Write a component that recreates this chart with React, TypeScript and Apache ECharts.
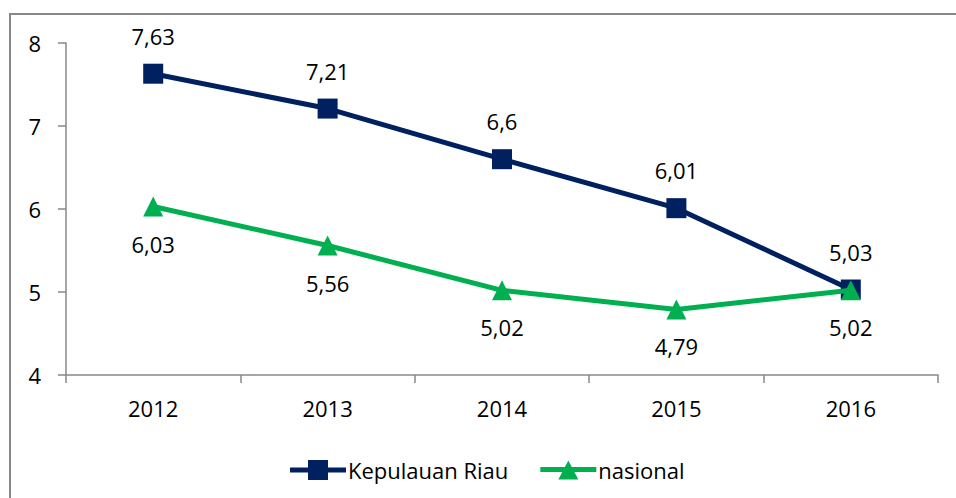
import React, { useEffect, useRef } from "react";
import * as echarts from "echarts";

const years = ["2012", "2013", "2014", "2015", "2016"];
const kepri = [7.63, 7.21, 6.6, 6.01, 5.03];
const nasional = [6.03, 5.56, 5.02, 4.79, 5.02];
const yTicks = { min: 4, max: 8, interval: 1 };

const FONT = "'Open Sans', sans-serif";
const fmt = (p: any) => String(p.value).replace(".", ",");

const ICON_SQUARE = "path://M0,7.5 H56 V12.5 H0 Z M18,0 H38 V20 H18 Z";
const ICON_TRIANGLE = "path://M0,7.5 H56 V12.5 H0 Z M18,20 L28,1 L38,20 Z";

export default function App() {
  const ref = useRef<HTMLDivElement>(null);
  useEffect(() => {
    const chart = echarts.init(ref.current!, null, { renderer: "svg" });
    chart.setOption({
      animation: false,
      backgroundColor: "#ffffff",
      textStyle: { fontFamily: FONT },
      graphic: [
        {
          type: "rect",
          shape: { x: 10, y: 14, width: 1000, height: 600 },
          style: { fill: "none", stroke: "#888888", lineWidth: 2 },
          silent: true,
          z: -1,
        },
      ],
      grid: { left: 66, right: 18, top: 43, bottom: 123 },
      legend: {
        left: 285,
        top: 454,
        itemWidth: 56,
        itemHeight: 20,
        itemGap: 32,
        textStyle: { fontSize: 22, color: "#000", fontFamily: FONT, padding: [0, 0, 0, -3] },
        data: [
          { name: "Kepulauan Riau", icon: ICON_SQUARE, itemStyle: { color: "#002060" } },
          { name: "nasional", icon: ICON_TRIANGLE, itemStyle: { color: "#00B050" } },
        ],
      },
      xAxis: {
        type: "category",
        data: years,
        boundaryGap: true,
        axisLine: { lineStyle: { color: "#888888", width: 1.5 } },
        axisTick: { show: true, length: 8, lineStyle: { color: "#888888", width: 1.5 } },
        axisLabel: { fontSize: 22, color: "#000", margin: 22, fontFamily: FONT },
        splitLine: { show: false },
      },
      yAxis: {
        type: "value",
        min: yTicks.min,
        max: yTicks.max,
        interval: yTicks.interval,
        axisLine: { show: true, lineStyle: { color: "#888888", width: 1.5 } },
        axisTick: { show: true, length: 8, lineStyle: { color: "#888888", width: 1.5 } },
        axisLabel: { fontSize: 22, color: "#000", margin: 25, fontFamily: FONT },
        splitLine: { show: false },
      },
      series: [
        {
          name: "Kepulauan Riau",
          type: "line",
          data: kepri,
          symbol: "rect",
          symbolSize: 20,
          color: "#002060",
          lineStyle: { width: 5, color: "#002060" },
          itemStyle: { color: "#002060" },
          label: {
            show: true,
            position: "top",
            distance: 17,
            fontSize: 22,
            color: "#000",
            fontFamily: FONT,
            formatter: fmt,
          },
          z: 2,
        },
        {
          name: "nasional",
          type: "line",
          data: nasional,
          symbol: "triangle",
          symbolSize: 20,
          color: "#00B050",
          lineStyle: { width: 5, color: "#00B050" },
          itemStyle: { color: "#00B050" },
          label: {
            show: true,
            position: "bottom",
            distance: 16,
            fontSize: 22,
            color: "#000",
            fontFamily: FONT,
            formatter: fmt,
          },
          z: 3,
        },
      ],
    });
    return () => chart.dispose();
  }, []);
  return (
    <div
      ref={ref}
      style={{ position: "fixed", left: 0, top: 0, width: 956, height: 498 }}
    />
  );
}
